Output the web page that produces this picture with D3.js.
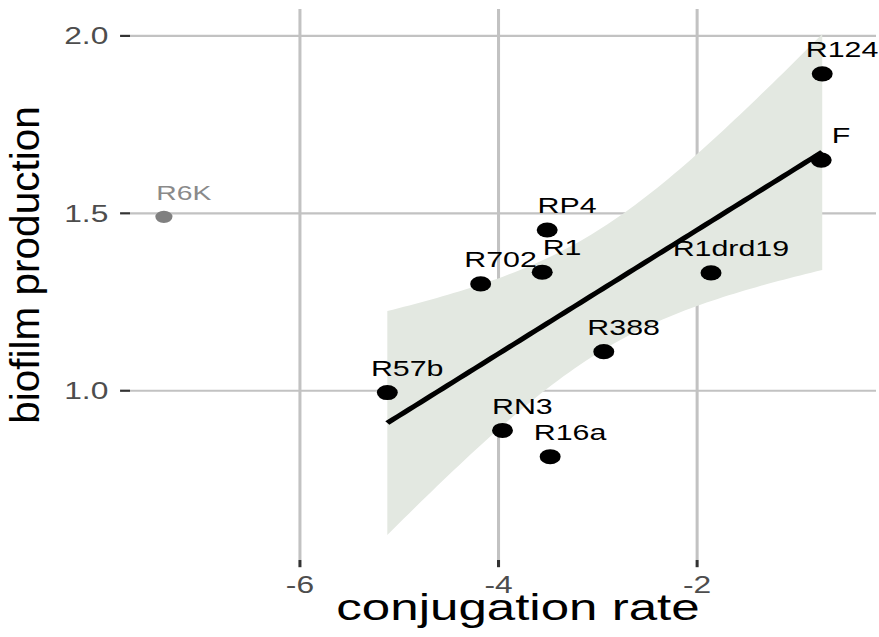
<!DOCTYPE html>
<html>
<head>
<meta charset="utf-8">
<script src="https://cdn.jsdelivr.net/npm/d3@7"></script>
<style>
  html, body { margin: 0; padding: 0; background: #fff; }
  text { font-family: "Liberation Sans", Arial, Helvetica, sans-serif; }
</style>
</head>
<body>
<svg id="chart" width="879" height="637"></svg>
<script>
// Plasmids used in the regression
const plasmids = ["RP4", "R1", "R702", "R1drd19", "R388", "R57b", "RN3", "R16a", "R124", "F"];
const conjugationRate = [-3.51, -3.56, -4.18, -1.86, -2.94, -5.12, -3.96, -3.48, -0.74, -0.75];
const biofilmProduction = [1.453, 1.334, 1.301, 1.332, 1.110, 0.995, 0.888, 0.814, 1.893, 1.650];

// Plasmid shown but left out of the fit
const outlierNames = ["R6K"];
const outlierRate = [-7.37];
const outlierBiofilm = [1.49];

const xTicks = [-6, -4, -2];
const yTicks = [1.0, 1.5, 2.0];
const xTickLabels = ["-6", "-4", "-2"];
const yTickLabels = ["1.0", "1.5", "2.0"];

const W = 879, H = 637;
const k = W / H;            // plot drawn on a square canvas, stretched horizontally
const plot = { left: 130 / k, right: 876 / k, top: 9, bottom: 560 };
const nudgeX = 0.2, nudgeY = 0.07;

// ---- linear fit with 95% confidence band ----
const n = conjugationRate.length;
const mx = d3.mean(conjugationRate), my = d3.mean(biofilmProduction);
const sxx = d3.sum(conjugationRate, x => (x - mx) ** 2);
const sxy = d3.sum(conjugationRate.map((x, i) => (x - mx) * (biofilmProduction[i] - my)));
const slope = sxy / sxx, intercept = my - slope * mx;
const sse = d3.sum(conjugationRate.map((x, i) => (biofilmProduction[i] - (intercept + slope * x)) ** 2));
const sigma = Math.sqrt(sse / (n - 2));
const tCrit = 2.306004; // t(0.975, df = 8)
const [fitMin, fitMax] = d3.extent(conjugationRate);
const band = d3.range(80).map(i => {
  const x = fitMin + (fitMax - fitMin) * i / 79;
  const yhat = intercept + slope * x;
  const se = sigma * Math.sqrt(1 / n + (x - mx) ** 2 / sxx);
  return { x, y: yhat, lo: yhat - tCrit * se, hi: yhat + tCrit * se };
});

// ---- scales (range of points, nudged labels and band, padded 5%) ----
const allX = conjugationRate.concat(outlierRate,
  conjugationRate.map(v => v + nudgeX), outlierRate.map(v => v + nudgeX));
const allY = biofilmProduction.concat(outlierBiofilm,
  biofilmProduction.map(v => v + nudgeY), outlierBiofilm.map(v => v + nudgeY),
  band.map(d => d.lo), band.map(d => d.hi));
function padded(ext) { const p = (ext[1] - ext[0]) * 0.05; return [ext[0] - p, ext[1] + p]; }
const x = d3.scaleLinear().domain(padded(d3.extent(allX))).range([plot.left, plot.right]);
const y = d3.scaleLinear().domain(padded(d3.extent(allY))).range([plot.bottom, plot.top]);

const svg = d3.select("#chart");
const g = svg.append("g").attr("transform", `scale(${k},1)`);

const gridColor = "#c2c2c2";
const gridW = 2.2;

// grid
g.append("g").selectAll("line").data(yTicks).join("line")
  .attr("x1", plot.left).attr("x2", plot.right)
  .attr("y1", d => y(d)).attr("y2", d => y(d))
  .attr("stroke", gridColor).attr("stroke-width", gridW);
g.append("g").selectAll("line").data(xTicks).join("line")
  .attr("x1", d => x(d)).attr("x2", d => x(d))
  .attr("y1", plot.top).attr("y2", plot.bottom)
  .attr("stroke", gridColor).attr("stroke-width", gridW);

// confidence band and fitted line
g.append("path").datum(band)
  .attr("fill", "#e3e8e1")
  .attr("d", d3.area().x(d => x(d.x)).y0(d => y(d.lo)).y1(d => y(d.hi)));
g.append("path").datum(band)
  .attr("fill", "none").attr("stroke", "#000").attr("stroke-width", 4.5)
  .attr("d", d3.line().x(d => x(d.x)).y(d => y(d.y)));

// excluded plasmid
g.append("g").selectAll("circle").data(outlierNames).join("circle")
  .attr("cx", (d, i) => x(outlierRate[i])).attr("cy", (d, i) => y(outlierBiofilm[i]))
  .attr("r", 6.2).attr("fill", "#808080");
g.append("g").selectAll("text").data(outlierNames).join("text")
  .attr("x", (d, i) => x(outlierRate[i] + nudgeX))
  .attr("y", (d, i) => y(outlierBiofilm[i] + nudgeY) + 7.5)
  .attr("text-anchor", "middle").attr("font-size", 20.5).attr("fill", "#8a8a8a")
  .text(d => d);

// plasmid points and labels
g.append("g").selectAll("circle").data(plasmids).join("circle")
  .attr("cx", (d, i) => x(conjugationRate[i])).attr("cy", (d, i) => y(biofilmProduction[i]))
  .attr("r", 7.6).attr("fill", "#000");
g.append("g").selectAll("text").data(plasmids).join("text")
  .attr("x", (d, i) => x(conjugationRate[i] + nudgeX))
  .attr("y", (d, i) => y(biofilmProduction[i] + nudgeY) + 8)
  .attr("text-anchor", "middle").attr("font-size", 22).attr("fill", "#000")
  .text(d => d);

// axes
const tickColor = "#333333", labelColor = "#4d4d4d";
g.append("g").selectAll("line").data(yTicks).join("line")
  .attr("x1", plot.left - 7.2).attr("x2", plot.left)
  .attr("y1", d => y(d)).attr("y2", d => y(d))
  .attr("stroke", tickColor).attr("stroke-width", gridW);
g.append("g").selectAll("text").data(yTicks).join("text")
  .attr("x", 78.5).attr("y", d => y(d) + 8.3)
  .attr("text-anchor", "end").attr("font-size", 23).attr("fill", labelColor)
  .text((d, i) => yTickLabels[i]);
g.append("g").selectAll("line").data(xTicks).join("line")
  .attr("x1", d => x(d)).attr("x2", d => x(d))
  .attr("y1", plot.bottom).attr("y2", plot.bottom + 7.2)
  .attr("stroke", tickColor).attr("stroke-width", gridW);
g.append("g").selectAll("text").data(xTicks).join("text")
  .attr("x", d => x(d)).attr("y", 593.5)
  .attr("text-anchor", "middle").attr("font-size", 23).attr("fill", labelColor)
  .text((d, i) => xTickLabels[i]);

// axis titles
g.append("text").attr("x", 518 / k).attr("y", 620)
  .attr("text-anchor", "middle").attr("font-size", 37).attr("fill", "#000")
  .text("conjugation rate");
svg.append("text").attr("transform", "translate(39,265) rotate(-90)")
  .attr("text-anchor", "middle").attr("font-size", 40.5).attr("fill", "#000")
  .text("biofilm production");
</script>
</body>
</html>
